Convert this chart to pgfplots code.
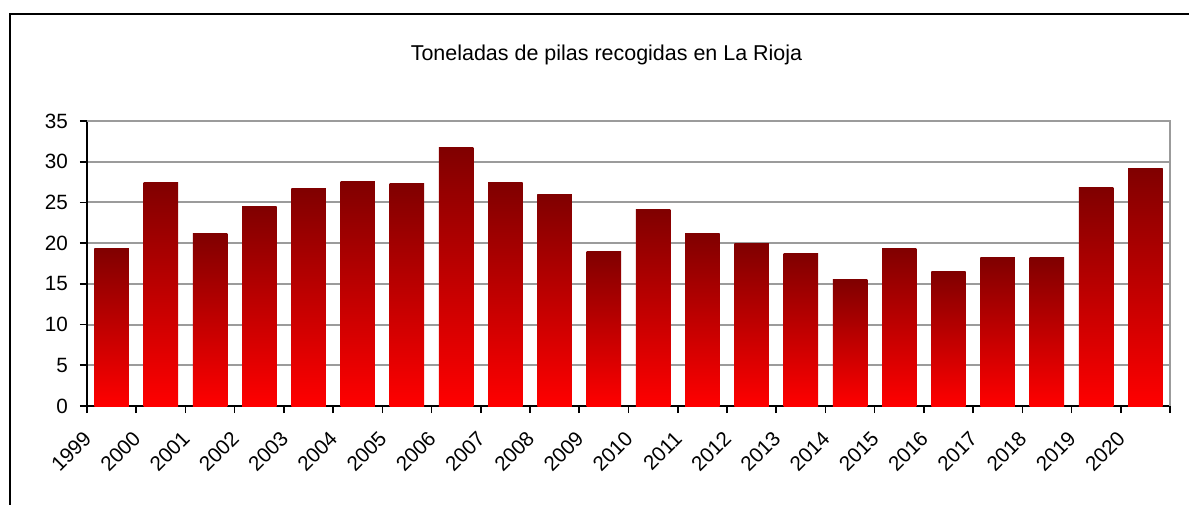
\documentclass[border=0pt]{standalone}
\usepackage{fontspec}
\setmainfont{Liberation Sans}
\usepackage{pgfplots}
\pgfplotsset{compat=1.18}
\definecolor{dred}{RGB}{128,0,0}
\definecolor{bred}{RGB}{255,0,0}
\definecolor{gridgray}{RGB}{155,155,155}
\begin{document}
\begin{tikzpicture}[x=0.75pt,y=0.75pt]
\useasboundingbox (0,0) rectangle (1189,504);
\draw[line width=2.2pt] (10,-5) -- (10,490) -- (1195,490);
\node[font=\fontsize{16.1pt}{19pt}\selectfont] at (606.5,449) {Toneladas de pilas recogidas en La Rioja};
\begin{axis}[at={(65.25pt,73.5pt)}, anchor=south west, scale only axis,
  width=812.25pt, height=213.75pt,
  ymin=0, ymax=35, ytick={0,5,...,35},
  xmin=-0.5, xmax=21.5,
  xtick={0,...,21},
  xticklabels={1999,2000,2001,2002,2003,2004,2005,2006,2007,2008,2009,2010,2011,2012,2013,2014,2015,2016,2017,2018,2019,2020},
  major x tick style={draw=none},
  minor xtick={-0.5,0.5,...,21.5},
  tick align=outside, major tick length=5.25pt, minor tick length=5.25pt,
  tick style={black, line width=1.2pt},
  axis x line*=bottom, axis y line*=left,
  axis line style={-, line width=1.5pt, black},
  ymajorgrids, grid style={gridgray, line width=1.5pt},
  /pgf/number format/assume math mode=true,
  tick label style={font=\fontsize{15.5pt}{18pt}\selectfont},
  yticklabel style={xshift=-5.5pt},
  xticklabel style={anchor=north east, inner sep=0pt, xshift=-22pt, yshift=-12.5pt, rotate=45},
  ybar, bar width=0.7, bar shift=0pt,
  every axis plot/.append style={draw=none, top color=dred, bottom color=bred},
  clip=false,
  after end axis/.code={
    \draw[gridgray, line width=1.5pt] (rel axis cs:0,1) -- (rel axis cs:1,1) -- (rel axis cs:1,0);
  },
]
\addplot coordinates {(0,19.4)};
\addplot coordinates {(1,27.5)};
\addplot coordinates {(2,21.2)};
\addplot coordinates {(3,24.5)};
\addplot coordinates {(4,26.7)};
\addplot coordinates {(5,27.6)};
\addplot coordinates {(6,27.3)};
\addplot coordinates {(7,31.8)};
\addplot coordinates {(8,27.4)};
\addplot coordinates {(9,26.0)};
\addplot coordinates {(10,19.0)};
\addplot coordinates {(11,24.1)};
\addplot coordinates {(12,21.2)};
\addplot coordinates {(13,19.9)};
\addplot coordinates {(14,18.7)};
\addplot coordinates {(15,15.5)};
\addplot coordinates {(16,19.4)};
\addplot coordinates {(17,16.5)};
\addplot coordinates {(18,18.2)};
\addplot coordinates {(19,18.2)};
\addplot coordinates {(20,26.8)};
\addplot coordinates {(21,29.2)};
\end{axis}
\end{tikzpicture}
\end{document}
